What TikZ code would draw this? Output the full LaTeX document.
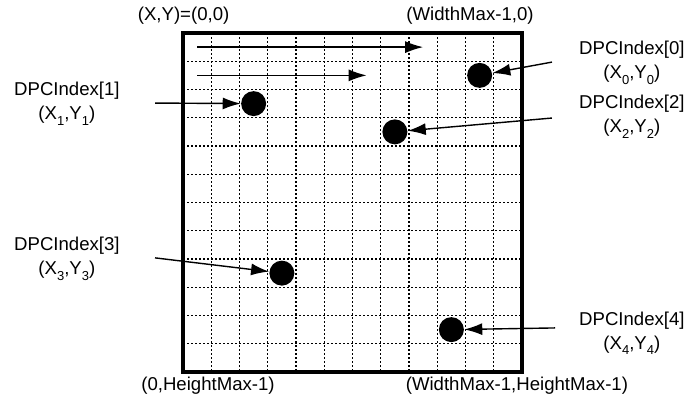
\documentclass[tikz,border=0pt]{standalone}
\usepackage{fontspec}
\setmainfont{Liberation Sans}
\usetikzlibrary{arrows.meta,positioning}
\newcommand{\lowidx}[1]{\raisebox{-0.55ex}{\fontsize{6.5}{7}\selectfont #1}}

\begin{document}
\begin{tikzpicture}[x=14.125pt,y=-14.125pt,>={Latex[length=9pt,width=6pt]},
  gridline/.style={line width=0.7pt,dash pattern=on 1pt off 1pt},
  frame/.style={line width=1.6pt},
  pix/.style={circle,fill=black,inner sep=0pt,minimum size=12.5pt},
  arr/.style={->,line width=0.7pt},
  tag/.style={align=center,font=\fontsize{9.3}{12}\selectfont,inner sep=0pt},
  corner/.style={font=\fontsize{9.3}{12}\selectfont,inner sep=0pt}]
\useasboundingbox (-6.478,-1.168) rectangle (18.159,13.133);
\foreach \i in {1,...,11} {
  \draw[gridline] (\i,0) -- (\i,12);
  \draw[gridline] (0,\i) -- (12,\i);
}
\draw[frame] (0,0) rectangle (12,12);
\node[corner] (tl) at (0.02,-0.6) {(X,Y)=(0,0)};
\node[corner] (tr) at (10.16,-0.6) {(WidthMax-1,0)};
\node[corner] (bl) at (0.885,12.5) {(0,HeightMax-1)};
\node[corner] (br) at (11.82,12.5) {(WidthMax-1,HeightMax-1)};
\coordinate (scan0a) at (0.5,0.5);
\coordinate (scan0b) at (8.5,0.5);
\coordinate (scan1a) at (0.5,1.5);
\coordinate (scan1b) at (6.5,1.5);
\draw[arr] (scan0a) -- (scan0b);
\draw[arr] (scan1a) -- (scan1b);
\node[pix] (d0) at (10.5,1.5) {};
\node[pix] (d1) at (2.5,2.5) {};
\node[pix] (d2) at (7.5,3.5) {};
\node[pix] (d3) at (3.5,8.5) {};
\node[pix] (d4) at (9.5,10.5) {};
\node[tag] (t0) at (15.89,1.06) {DPCIndex[0]\\(X\lowidx{0},Y\lowidx{0})};
\node[tag] (t1) at (-4.11,2.51) {DPCIndex[1]\\(X\lowidx{1},Y\lowidx{1})};
\node[tag] (t2) at (15.89,2.97) {DPCIndex[2]\\(X\lowidx{2},Y\lowidx{2})};
\node[tag] (t3) at (-4.11,8.0) {DPCIndex[3]\\(X\lowidx{3},Y\lowidx{3})};
\node[tag] (t4) at (15.89,10.62) {DPCIndex[4]\\(X\lowidx{4},Y\lowidx{4})};
\coordinate (s0) at (13.06,1.03);
\coordinate (s1) at (-0.99,2.48);
\coordinate (s2) at (13.06,3.01);
\coordinate (s3) at (-0.99,7.96);
\coordinate (s4) at (13.17,10.44);
\draw[arr] (s0) -- (d0);
\draw[arr] (s1) -- (d1);
\draw[arr] (s2) -- (d2);
\draw[arr] (s3) -- (d3);
\draw[arr] (s4) -- (d4);
\end{tikzpicture}
\end{document}
